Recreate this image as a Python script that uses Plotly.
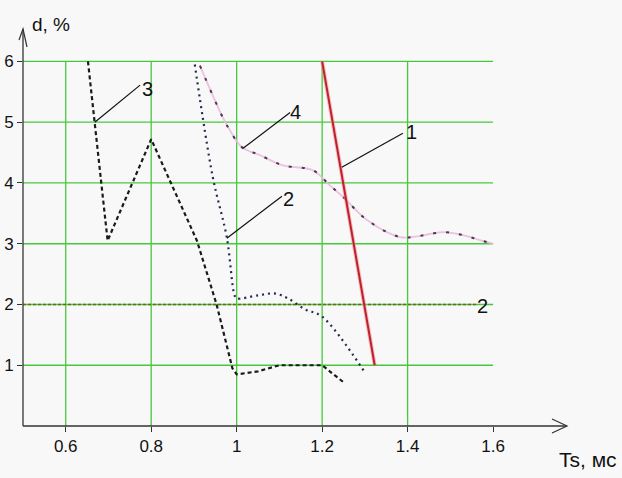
import plotly.graph_objects as go

# ---- data ----
c1_x = [1.2, 1.323]
c1_y = [6.0, 1.0]

c2_x = [0.902, 0.944, 0.977, 0.995, 1.0, 1.05, 1.09, 1.12, 1.16, 1.2, 1.3]
c2_y = [5.95, 4.1, 3.1, 2.15, 2.1, 2.15, 2.18, 2.1, 1.92, 1.8, 0.88]

c3_x = [0.652, 0.668, 0.698, 0.8, 0.907, 0.953, 0.99, 1.0, 1.05, 1.1, 1.2, 1.25]
c3_y = [6.0, 5.0, 3.05, 4.72, 3.05, 2.0, 0.95, 0.85, 0.9, 1.0, 1.0, 0.72]

c4_x = [0.914, 0.968, 0.984, 1.012, 1.054, 1.108, 1.178, 1.218, 1.249, 1.305,
        1.382, 1.421, 1.452, 1.483, 1.51, 1.541, 1.569, 1.6]
c4_y = [5.93, 5.07, 4.87, 4.59, 4.46, 4.29, 4.21, 3.96, 3.77, 3.39,
        3.11, 3.12, 3.16, 3.19, 3.17, 3.12, 3.06, 3.0]

ref_x = [0.5, 1.56]
ref_y = [2.0, 2.0]

x_ticks = [0.6, 0.8, 1.0, 1.2, 1.4, 1.6]
x_tick_labels = ["0.6", "0.8", "1", "1.2", "1.4", "1.6"]
y_ticks = [1, 2, 3, 4, 5, 6]
y_tick_labels = ["1", "2", "3", "4", "5", "6"]
x_grid = [0.6, 0.8, 1.0, 1.2, 1.4]

# curve labels: (text, leader start x, y, leader end x, y, text x, y)
labels = [
    ("3", 0.668, 5.0, 0.774, 5.61, 0.792, 5.55),
    ("4", 1.015, 4.57, 1.125, 5.16, 1.138, 5.17),
    ("2", 0.977, 3.09, 1.106, 3.78, 1.122, 3.74),
    ("1", 1.246, 4.26, 1.389, 4.82, 1.408, 4.84),
]

W, H = 622, 478
L, R, T, B = 23, 52, 25, 52
pw, ph = W - L - R, H - T - B
X0, X1 = 0.5, 1.78
Y0, Y1 = 0.0, 6.6
GRID_TOP = 6.0
GRID_RIGHT = 1.6
GREEN = "rgb(70,200,60)"
FONT = "Liberation Sans, Arial"


def px(xp):
    return (xp - L) / pw


def py(yp):
    return 1 - (yp - T) / ph


fig = go.Figure()

shapes = []
for gx in x_grid:
    shapes.append(dict(type="line", xref="x", yref="y", x0=gx, x1=gx, y0=0, y1=GRID_TOP,
                       line=dict(color=GREEN, width=1.3), layer="below"))
for gy in y_ticks:
    shapes.append(dict(type="line", xref="x", yref="y", x0=X0, x1=GRID_RIGHT, y0=gy, y1=gy,
                       line=dict(color=GREEN, width=1.3), layer="below"))
# axes (paper coords from pixel positions)
shapes.append(dict(type="line", xref="paper", yref="paper", x0=px(23), x1=px(567), y0=py(426), y1=py(426),
                   line=dict(color="#333", width=1.3)))
shapes.append(dict(type="line", xref="paper", yref="paper", x0=px(23), x1=px(23), y0=py(426), y1=py(29),
                   line=dict(color="#333", width=1.3)))
# arrow heads
shapes.append(dict(type="path", xref="paper", yref="paper",
                   path=f"M {px(552)},{py(419)} L {px(567)},{py(426)} L {px(552)},{py(433)}",
                   line=dict(color="#333", width=1.2)))
shapes.append(dict(type="path", xref="paper", yref="paper",
                   path=f"M {px(19)},{py(40)} L {px(23)},{py(29)} L {px(27)},{py(47)}",
                   line=dict(color="#333", width=1.2)))
fig.update_layout(shapes=shapes)

# curves
fig.add_trace(go.Scatter(x=ref_x, y=ref_y, mode="lines",
                         line=dict(color="#6b6a1a", width=1.5, dash="3px,2px"), showlegend=False))
fig.add_trace(go.Scatter(x=c4_x, y=c4_y, mode="lines", line_shape="spline",
                         line=dict(color="rgba(235,185,225,0.9)", width=1.8), showlegend=False))
fig.add_trace(go.Scatter(x=c4_x, y=c4_y, mode="lines", line_shape="spline",
                         line=dict(color="#4a3a4a", width=2, dash="3px,10px"), showlegend=False))
fig.add_trace(go.Scatter(x=c2_x, y=c2_y, mode="lines", line_shape="spline",
                         line=dict(color="#262a50", width=2.2, dash="2px,4px"), showlegend=False))
fig.add_trace(go.Scatter(x=c3_x, y=c3_y, mode="lines",
                         line=dict(color="#1a1a1a", width=2.2, dash="4px,3px"), showlegend=False))
fig.add_trace(go.Scatter(x=c1_x, y=c1_y, mode="lines",
                         line=dict(color="rgba(240,150,160,0.6)", width=4), showlegend=False))
fig.add_trace(go.Scatter(x=c1_x, y=c1_y, mode="lines",
                         line=dict(color="#c0202a", width=2), showlegend=False))

annotations = []
for txt, sx, sy, ex, ey, tx, ty in labels:
    fig.add_trace(go.Scatter(x=[sx, ex], y=[sy, ey], mode="lines",
                             line=dict(color="#111", width=1.2), hoverinfo="skip", showlegend=False))
    annotations.append(dict(x=tx, y=ty, xref="x", yref="y", text=txt, showarrow=False,
                            xanchor="center", yanchor="middle",
                            font=dict(family=FONT, size=20, color="#111")))
annotations.append(dict(x=1.576, y=1.97, xref="x", yref="y", text="2", showarrow=False,
                        xanchor="center", yanchor="middle",
                        font=dict(family=FONT, size=20, color="#111")))
annotations.append(dict(x=px(51), y=py(24), xref="paper", yref="paper", text="d, %", showarrow=False,
                        xanchor="center", yanchor="middle",
                        font=dict(family=FONT, size=19, color="#111")))
annotations.append(dict(x=px(588), y=py(459), xref="paper", yref="paper", text="Ts, мс", showarrow=False,
                        xanchor="center", yanchor="middle",
                        font=dict(family=FONT, size=21, color="#111")))

fig.update_layout(
    annotations=annotations,
    width=W, height=H,
    margin=dict(l=L, r=R, t=T, b=B, pad=0),
    paper_bgcolor="#f8f8f8", plot_bgcolor="#f8f8f8",
    xaxis=dict(range=[X0, X1], tickvals=x_ticks, ticktext=x_tick_labels, showgrid=False,
               zeroline=False, showline=False, ticks="outside", ticklen=5, tickcolor="#333",
               automargin=False,
               tickfont=dict(family=FONT, size=17, color="#111")),
    yaxis=dict(range=[Y0, Y1], tickvals=y_ticks, ticktext=y_tick_labels, showgrid=False,
               zeroline=False, showline=False, ticks="outside", ticklen=5, tickcolor="#333",
               automargin=False,
               tickfont=dict(family=FONT, size=17, color="#111")),
    showlegend=False,
)

fig.write_html("out.html", config={"displayModeBar": False},
               post_script="document.body.style.margin='0';document.body.style.overflow='hidden';")
